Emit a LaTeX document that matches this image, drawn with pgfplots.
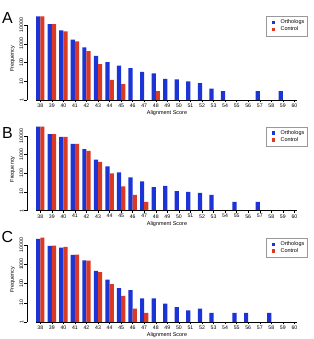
\documentclass[border=0pt]{standalone}
\usepackage{pgfplots}
\pgfplotsset{compat=1.18}
\usepackage{fontspec}
\setmainfont{Liberation Sans}

\definecolor{orthoblue}{RGB}{28,52,214}
\definecolor{ctrlred}{RGB}{218,58,36}

% shared look of the three histogram panels
\pgfplotsset{
  every axis/.append style={
    scale only axis, width=280bp,
    xmin=36.85, xmax=61.09,
    ymin=1, ymax=50118.7,
    bar width=4.2bp,
    axis x line=bottom, axis y line=left,
    axis line style={draw=none},
    xtick={38,39,40,41,42,43,44,45,46,47,48,49,50,51,52,53,54,55,56,57,58,59,60},
    xticklabels={38,39,40,41,42,43,44,45,46,47,48,49,50,51,52,53,54,55,56,57,58,59,60},
    ytick={1,10,100,1000,10000},
    yticklabels={1,10,100,1000,10000},
    yminorticks=false,
    tick align=outside, major tick length=2.5bp,
    tick style={black, line width=0.4pt},
    xticklabel style={font=\fontsize{5.2}{6}\selectfont, inner sep=1bp},
    yticklabel style={font=\fontsize{5.2}{6}\selectfont, rotate=90, anchor=south, inner sep=1bp},
    xlabel style={font=\fontsize{5.5}{6.5}\selectfont, at={(rel axis cs:0.5,0)}, anchor=center, yshift=-13bp},
    % the label is rotated, so its own y direction points left
    ylabel style={font=\fontsize{5.5}{6.5}\selectfont, at={(rel axis cs:0,0.47)}, anchor=center, rotate=0, yshift=14.5bp},
    legend cell align=left,
    legend style={draw=gray!80, line width=0.4pt, anchor=north east,
      font=\fontsize{5.5}{6.5}\selectfont, inner xsep=1.5bp, inner ysep=2.6bp,
      nodes={inner sep=1bp}, row sep=-0.6bp, column sep=4.4bp},
    clip=false,
  },
  orthostyle/.style={fill=orthoblue, draw=none,
    legend image code/.code={\path (-4.2bp,0bp); \fill[orthoblue] (0bp,-1.7bp) rectangle (3.4bp,1.7bp);}},
  ctrlstyle/.style={fill=ctrlred, draw=none,
    legend image code/.code={\path (-4.2bp,0bp); \fill[ctrlred] (0bp,-1.7bp) rectangle (3.4bp,1.7bp);}},
}

\begin{document}
\begin{tikzpicture}
\useasboundingbox (0,0) rectangle (314bp,339bp);

% Panel A
\node[font=\fontsize{16}{16}\selectfont] at (7.5bp,320.5bp) {A};
\begin{semilogyaxis}[ybar=0pt, height=88.1bp, at={(27bp,239bp)}, anchor=south west,
  xlabel={Alignment Score}, ylabel={Frequency},
  legend style={at={(1,0.953)}}]
\addplot[orthostyle] coordinates {
  (38,29000) (39,11000) (40,5200) (41,1660) (42,650) (43,225) (44,104)
  (45,69) (46,50) (47,32) (48,26) (49,13.5) (50,12.5) (51,10) (52,8)
  (53,4) (54,3) (57,3) (59,3)};
\addplot[ctrlstyle] coordinates {
  (38,29000) (39,11000) (40,4600) (41,1350) (42,400) (43,81) (44,12)
  (45,7) (48,3)};
\legend{Orthologs, Control}
\draw[line width=0.4pt] (axis cs:37.63,1) -- (axis cs:60.2,1);
\draw[line width=0.4pt] (axis cs:36.85,1) -- (axis cs:36.85,10000);
\end{semilogyaxis}

% Panel B
\node[font=\fontsize{16}{16}\selectfont] at (7.5bp,206bp) {B};
\begin{semilogyaxis}[ybar=0pt, height=87.9bp, at={(27bp,128.3bp)}, anchor=south west,
  xlabel={Alignment Score}, ylabel={Frequency},
  legend style={at={(1,0.956)}}]
\addplot[orthostyle] coordinates {
  (38,31600) (39,12300) (40,8900) (41,3700) (42,1940) (43,540) (44,237)
  (45,113) (46,61) (47,37) (48,18) (49,21) (50,11) (51,10) (52,9)
  (53,7) (55,3) (57,3)};
\addplot[ctrlstyle] coordinates {
  (38,31600) (39,12300) (40,8900) (41,3700) (42,1580) (43,405) (44,100)
  (45,20) (46,7) (47,3)};
\legend{Orthologs, Control}
\draw[line width=0.4pt] (axis cs:37.63,1) -- (axis cs:60.2,1);
\draw[line width=0.4pt] (axis cs:36.85,1) -- (axis cs:36.85,10000);
\end{semilogyaxis}

% Panel C
\node[font=\fontsize{16}{16}\selectfont] at (7.5bp,101.5bp) {C};
\begin{semilogyaxis}[ybar=0pt, height=90.5bp, at={(27bp,17bp)}, anchor=south west,
  xlabel={Alignment Score}, ylabel={Frequency},
  legend style={at={(1,0.931)}}]
\addplot[orthostyle] coordinates {
  (38,20500) (39,8900) (40,7300) (41,3050) (42,1610) (43,455) (44,160)
  (45,57) (46,45) (47,17) (48,17) (49,9) (50,6) (51,4) (52,5)
  (53,3) (55,3) (56,3) (58,3)};
\addplot[ctrlstyle] coordinates {
  (38,24000) (39,9300) (40,7900) (41,3160) (42,1550) (43,385) (44,92)
  (45,23) (46,5) (47,3)};
\legend{Orthologs, Control}
\draw[line width=0.4pt] (axis cs:37.63,1) -- (axis cs:60.2,1);
\draw[line width=0.4pt] (axis cs:36.85,1) -- (axis cs:36.85,10000);
\end{semilogyaxis}
\end{tikzpicture}
\end{document}
